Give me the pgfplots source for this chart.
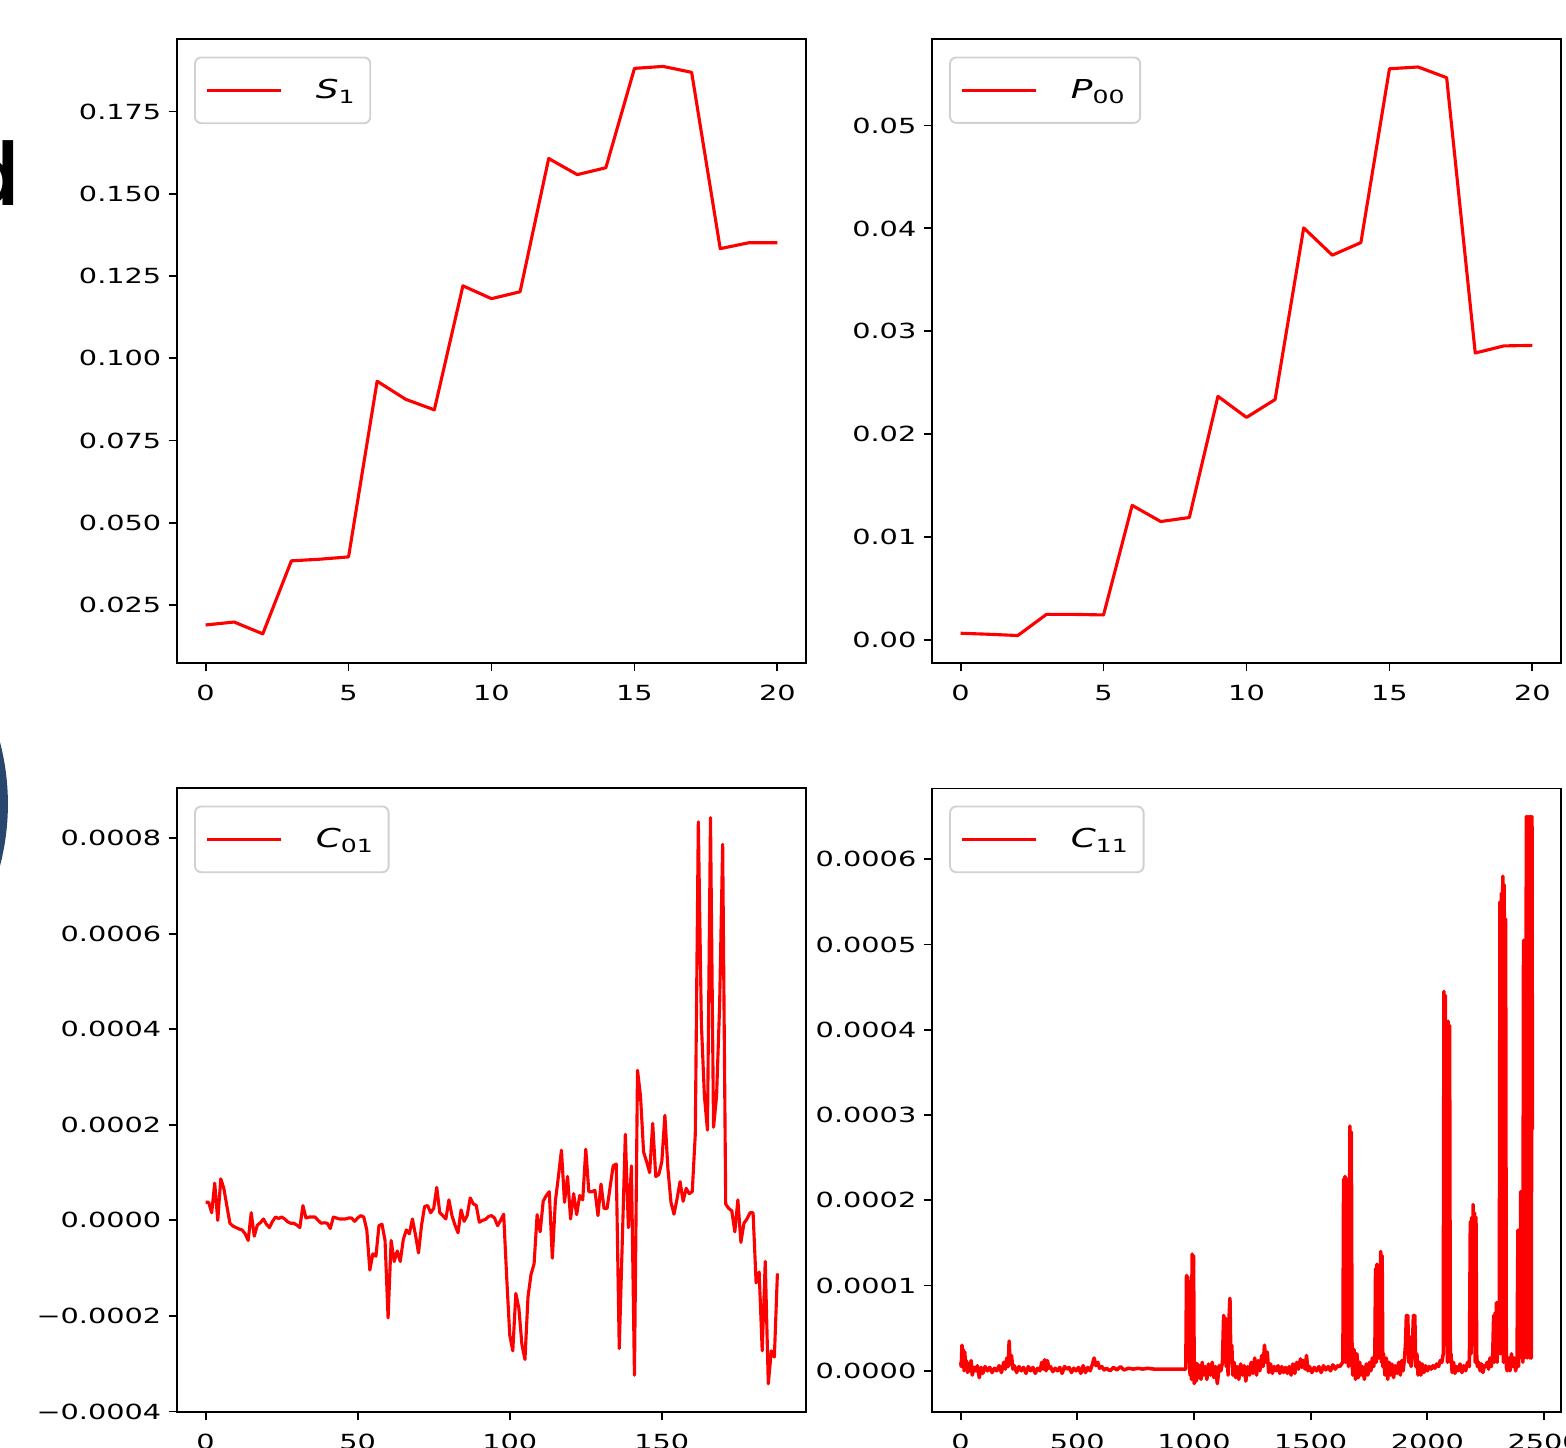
\documentclass[border=0pt]{standalone}
\usepackage{fontspec}
\setmainfont{DejaVu Sans}[FakeStretch=1.38]
\usepackage{pgfplots}
\pgfplotsset{compat=1.18}

\pgfplotsset{
  panel/.style={
    scale only axis, width=301.92pt, height=299.3pt,
    scaled ticks=false,
    axis line style={line width=0.9pt, black},
    tick align=outside, tick pos=left,
    major tick length=4pt,
    tick style={line width=0.9pt, black},
    tick label style={font=\fontsize{10}{12}\selectfont},
    xticklabel style={yshift=-3pt},
    legend style={at={(axis description cs:0,1)}, anchor=north west,
      xshift=8.2pt, yshift=-8.2pt, draw=black!18, line width=0.9pt,
      rounded corners=3pt, inner xsep=5pt, inner ysep=8.4pt,
      font=\fontsize{12.5}{15}\selectfont, cells={anchor=west},
      /tikz/every odd column/.append style={column sep=14pt}},
    legend image code/.code={\draw[##1, line width=1.5pt] (0pt,0pt) -- (35.5pt,0pt);},
  },
  redline/.style={color=red, line width=1.5pt, line join=round},
}

\begin{document}
\begin{tikzpicture}
\useasboundingbox (0,0) rectangle (751.68pt,695.04pt);
\clip (0,0) rectangle (751.68pt,695.04pt);

% fragments of the neighbouring panels
\fill[fill={rgb,255:red,40;green,70;blue,110}] (-113.3pt,309.1pt) circle (117.1pt);
\node[anchor=base east, font=\fontsize{41}{41}\selectfont, inner sep=0pt] at (12pt,596.6pt) {d};

% S_1
\begin{axis}[panel, at={(84.96pt,376.8pt)}, anchor=south west,
  xmin=-1, xmax=21, ymin=0.00735, ymax=0.1969,
  xtick={0,5,10,15,20}, xticklabels={0,5,10,15,20},
  ytick={0.025,0.05,0.075,0.1,0.125,0.15,0.175},
  yticklabels={0.025,0.050,0.075,0.100,0.125,0.150,0.175}]
\addplot[redline] coordinates {
  (0,0.0189) (1,0.0198) (2,0.0162) (3,0.0384) (4,0.0389) (5,0.0396)
  (6,0.0930) (7,0.0875) (8,0.0843) (9,0.1220) (10,0.1181) (11,0.1202)
  (12,0.1607) (13,0.1558) (14,0.1579) (15,0.1881) (16,0.1887) (17,0.1869)
  (18,0.1333) (19,0.1351) (20,0.1351)};
\addlegendentry{\textit{S}\textsubscript{1}}
\end{axis}

% P_00
\begin{axis}[panel, at={(447.36pt,376.8pt)}, anchor=south west,
  xmin=-1, xmax=21, ymin=-0.00224, ymax=0.05837,
  xtick={0,5,10,15,20}, xticklabels={0,5,10,15,20},
  ytick={0,0.01,0.02,0.03,0.04,0.05},
  yticklabels={0.00,0.01,0.02,0.03,0.04,0.05}]
\addplot[redline] coordinates {
  (0,0.00065) (1,0.00055) (2,0.00043) (3,0.00248) (4,0.00248) (5,0.00243)
  (6,0.01308) (7,0.01151) (8,0.01190) (9,0.02368) (10,0.02163) (11,0.02337)
  (12,0.04005) (13,0.03740) (14,0.03862) (15,0.05552) (16,0.05569) (17,0.05465)
  (18,0.02789) (19,0.02858) (20,0.02863)};
\addlegendentry{\textit{P}\textsubscript{00}}
\end{axis}

% C_01
\begin{axis}[panel, at={(84.96pt,17.28pt)}, anchor=south west,
  xmin=-9.4, xmax=197.4, ymin=-0.000401, ymax=0.000904,
  xtick={0,50,100,150}, xticklabels={0,50,100,150},
  ytick={-0.0004,-0.0002,0,0.0002,0.0004,0.0006,0.0008},
  yticklabels={−0.0004,−0.0002,0.0000,0.0002,0.0004,0.0006,0.0008}]
\addplot[redline] table {
0 0.38e-4
1 0.38e-4
2 0.16e-4
3 0.78e-4
4 0
5 0.87e-4
6 0.67e-4
7 0.30e-4
8 -0.06e-4
9 -0.12e-4
10 -0.15e-4
11 -0.18e-4
12 -0.20e-4
13 -0.28e-4
14 -0.42e-4
15 0.16e-4
16 -0.33e-4
17 -0.10e-4
18 -0.05e-4
19 0.03e-4
20 -0.08e-4
21 -0.15e-4
22 -0.02e-4
23 0.07e-4
24 0.04e-4
25 0.07e-4
26 0.03e-4
27 -0.03e-4
28 -0.06e-4
29 -0.06e-4
30 -0.10e-4
31 -0.15e-4
32 0.31e-4
33 0.05e-4
34 0.07e-4
35 0.07e-4
36 0.07e-4
37 0.00
38 -0.06e-4
39 -0.05e-4
40 -0.06e-4
41 -0.17e-4
42 0.07e-4
43 0.05e-4
44 0.03e-4
45 0.03e-4
46 0.03e-4
47 0.05e-4
48 0.05e-4
49 -0.02e-4
50 0.05e-4
51 0.10e-4
52 0.07e-4
53 -0.20e-4
54 -1.04e-4
55 -0.70e-4
56 -0.75e-4
57 -0.11e-4
58 -0.08e-4
59 -0.42e-4
60 -2.04e-4
61 -0.42e-4
62 -0.86e-4
63 -0.64e-4
64 -0.86e-4
65 -0.40e-4
66 -0.20e-4
67 -0.28e-4
68 0.03e-4
69 -0.30e-4
70 -0.68e-4
71 -0.10e-4
72 0.29e-4
73 0.31e-4
74 0.16e-4
75 0.25e-4
76 0.69e-4
77 0.16e-4
78 0.10e-4
79 0.03e-4
80 0.43e-4
81 0.10e-4
82 -0.10e-4
83 -0.26e-4
84 0.22e-4
85 -0.02e-4
86 0.10e-4
87 0.47e-4
88 0.35e-4
89 0.31e-4
90 -0.04e-4
91 0.00
92 0.02e-4
93 0.08e-4
94 0.10e-4
95 0.05e-4
96 -0.11e-4
97 0.00
98 0.13e-4
99 -1.20e-4
100 -2.40e-4
101 -2.73e-4
102 -1.53e-4
103 -1.84e-4
104 -2.60e-4
105 -2.91e-4
106 -1.60e-4
107 -1.13e-4
108 -0.91e-4
109 0.12e-4
110 -0.24e-4
111 0.40e-4
112 0.52e-4
113 0.60e-4
114 -0.79e-4
115 0.40e-4
116 0.92e-4
117 1.47e-4
118 0.38e-4
119 0.92e-4
120 0.03e-4
121 0.56e-4
122 0.12e-4
123 0.52e-4
124 0.43e-4
125 1.49e-4
126 0.60e-4
127 0.60e-4
128 0.63e-4
129 0.10e-4
130 0.76e-4
131 0.25e-4
132 0.25e-4
133 0.70e-4
134 1.14e-4
135 1.18e-4
136 -2.68e-4
137 -0.44e-4
138 1.80e-4
139 -0.15e-4
140 1.14e-4
141 -3.24e-4
142 3.14e-4
143 2.60e-4
144 1.43e-4
145 1.23e-4
146 1.00e-4
147 2.03e-4
148 0.92e-4
149 0.96e-4
150 1.23e-4
151 2.20e-4
152 1.08e-4
153 0.38e-4
154 0.13e-4
155 0.45e-4
156 0.81e-4
157 0.40e-4
158 0.67e-4
159 0.56e-4
160 0.60e-4
161 1.80e-4
162 8.34e-4
163 4.12e-4
164 2.60e-4
165 1.89e-4
166 8.43e-4
167 1.95e-4
168 2.60e-4
169 4.50e-4
170 7.87e-4
171 0.34e-4
172 0.25e-4
173 0.20e-4
174 -0.24e-4
175 0.43e-4
176 -0.46e-4
177 -0.06e-4
178 0.03e-4
179 0.16e-4
180 0.16e-4
181 -1.31e-4
182 -1.08e-4
183 -2.73e-4
184 -0.86e-4
185 -3.42e-4
186 -2.73e-4
187 -2.86e-4
188 -1.11e-4
};
\addlegendentry{\textit{C}\textsubscript{01}}
\end{axis}

% C_11
\begin{axis}[panel, at={(447.36pt,17.28pt)}, anchor=south west,
  xmin=-122.5, xmax=2572.5, ymin=-0.0000483, ymax=0.000683,
  xtick={0,500,1000,1500,2000,2500}, xticklabels={0,500,1000,1500,2000,2500},
  ytick={0,0.0001,0.0002,0.0003,0.0004,0.0005,0.0006},
  yticklabels={0.0000,0.0001,0.0002,0.0003,0.0004,0.0005,0.0006}]
\addplot[redline, line width=1.7pt] table {
0 0.10e-4
3 0.05e-4
6 0.30e-4
9 0.05e-4
12 0.25e-4
15 0.00
18 0.22e-4
21 0.03e-4
25 0.12e-4
30 -0.02e-4
35 0.08e-4
40 0.00
45 0.12e-4
50 -0.05e-4
58 0.04e-4
65 0.00
72 0.06e-4
80 -0.08e-4
88 0.04e-4
95 -0.03e-4
105 0.05e-4
115 0.00
125 0.04e-4
135 -0.02e-4
145 0.03e-4
155 0.00
165 0.06e-4
175 -0.02e-4
185 0.10e-4
192 0.02e-4
198 0.15e-4
204 0.05e-4
208 0.35e-4
212 0.08e-4
218 0.18e-4
224 0.02e-4
230 0.06e-4
240 -0.02e-4
250 0.05e-4
260 0.00
270 0.04e-4
280 -0.03e-4
290 0.05e-4
300 0.00
310 0.04e-4
320 -0.03e-4
330 0.03e-4
340 0.00
348 0.10e-4
354 0.02e-4
360 0.13e-4
366 0.00
372 0.12e-4
378 0.03e-4
385 0.05e-4
395 -0.01e-4
405 0.03e-4
415 0.00
425 0.04e-4
435 -0.03e-4
445 0.05e-4
455 0.02e-4
465 0.04e-4
475 -0.02e-4
485 0.03e-4
495 0.00
505 0.04e-4
515 -0.03e-4
525 0.06e-4
535 -0.02e-4
545 0.04e-4
555 0.00
565 0.08e-4
572 0.15e-4
580 0.06e-4
588 0.10e-4
595 0.03e-4
605 0.05e-4
615 0.01e-4
625 0.03e-4
640 0.00
655 0.04e-4
670 0.01e-4
685 0.05e-4
700 0.01e-4
720 0.03e-4
740 0.02e-4
760 0.03e-4
780 0.02e-4
800 0.03e-4
830 0.02e-4
860 0.02e-4
900 0.02e-4
940 0.02e-4
965 0.02e-4
968 1.12e-4
971 0.80e-4
974 1.10e-4
977 0.10e-4
980 0.95e-4
983 -0.05e-4
986 1.05e-4
989 -0.10e-4
992 1.37e-4
995 0.20e-4
998 1.35e-4
1001 -0.15e-4
1005 0.10e-4
1010 -0.12e-4
1015 0.08e-4
1020 -0.08e-4
1025 0.06e-4
1030 -0.10e-4
1035 0.10e-4
1040 -0.05e-4
1048 0.05e-4
1055 -0.10e-4
1062 0.08e-4
1070 -0.05e-4
1078 0.10e-4
1085 -0.08e-4
1092 0.05e-4
1100 -0.15e-4
1108 0.06e-4
1115 0.00
1122 0.10e-4
1127 0.65e-4
1131 0.20e-4
1134 0.62e-4
1138 0.05e-4
1142 0.40e-4
1146 -0.05e-4
1150 0.60e-4
1154 0.85e-4
1158 0.10e-4
1162 0.30e-4
1166 -0.05e-4
1172 0.10e-4
1178 -0.08e-4
1185 0.05e-4
1192 -0.10e-4
1200 0.08e-4
1208 -0.05e-4
1215 0.06e-4
1222 -0.12e-4
1230 0.05e-4
1238 -0.05e-4
1245 0.10e-4
1252 -0.03e-4
1260 0.15e-4
1268 -0.05e-4
1275 0.12e-4
1282 0.00
1290 0.18e-4
1296 0.05e-4
1302 0.30e-4
1308 0.10e-4
1314 0.22e-4
1320 -0.02e-4
1328 0.08e-4
1336 -0.03e-4
1344 0.05e-4
1352 0.00
1360 0.06e-4
1368 -0.03e-4
1376 0.05e-4
1384 -0.02e-4
1392 0.04e-4
1400 -0.03e-4
1408 0.05e-4
1416 -0.05e-4
1424 0.08e-4
1432 -0.03e-4
1440 0.10e-4
1448 0.02e-4
1456 0.14e-4
1462 0.04e-4
1468 0.12e-4
1476 0.02e-4
1482 0.18e-4
1488 0.00
1495 0.05e-4
1505 -0.02e-4
1515 0.04e-4
1525 0.00
1535 0.05e-4
1545 -0.02e-4
1555 0.06e-4
1565 0.01e-4
1575 0.05e-4
1585 0.00
1595 0.07e-4
1605 0.02e-4
1615 0.06e-4
1625 0.05e-4
1632 0.08e-4
1638 0.10e-4
1641 2.25e-4
1644 0.20e-4
1647 2.28e-4
1650 0.10e-4
1653 2.20e-4
1656 0.40e-4
1659 2.25e-4
1662 0.05e-4
1665 0.35e-4
1668 2.87e-4
1671 0.10e-4
1674 2.80e-4
1677 0.20e-4
1680 -0.05e-4
1686 0.25e-4
1692 -0.10e-4
1698 0.20e-4
1704 -0.08e-4
1710 0.10e-4
1716 -0.05e-4
1722 0.05e-4
1730 -0.10e-4
1738 0.08e-4
1745 -0.05e-4
1752 0.10e-4
1758 0.00
1764 0.15e-4
1770 0.05e-4
1775 0.20e-4
1778 1.20e-4
1781 0.10e-4
1784 1.25e-4
1787 0.30e-4
1790 1.10e-4
1793 0.15e-4
1796 0.25e-4
1800 1.40e-4
1803 0.10e-4
1806 1.35e-4
1809 0.05e-4
1812 0.20e-4
1818 -0.05e-4
1824 0.15e-4
1830 -0.10e-4
1836 0.10e-4
1842 -0.05e-4
1848 0.08e-4
1855 -0.08e-4
1862 0.06e-4
1870 -0.03e-4
1877 0.10e-4
1884 -0.05e-4
1890 0.12e-4
1896 0.00
1902 0.15e-4
1906 0.30e-4
1910 0.65e-4
1913 0.25e-4
1916 0.65e-4
1920 0.10e-4
1925 0.40e-4
1930 0.05e-4
1935 0.20e-4
1940 0.65e-4
1943 0.15e-4
1946 0.65e-4
1950 0.05e-4
1955 0.20e-4
1960 -0.05e-4
1966 0.10e-4
1972 -0.05e-4
1978 0.08e-4
1985 -0.02e-4
1992 0.06e-4
2000 0.00
2008 0.05e-4
2016 0.02e-4
2024 0.06e-4
2032 0.03e-4
2040 0.08e-4
2048 0.05e-4
2055 0.12e-4
2062 0.10e-4
2068 0.20e-4
2071 4.45e-4
2074 1.05e-4
2077 4.40e-4
2080 0.30e-4
2083 3.50e-4
2086 0.10e-4
2089 4.10e-4
2092 0.50e-4
2095 4.05e-4
2098 0.10e-4
2101 0.20e-4
2106 -0.02e-4
2112 0.10e-4
2118 -0.03e-4
2125 0.05e-4
2132 0.00
2140 0.08e-4
2148 -0.02e-4
2156 0.06e-4
2164 0.00
2172 0.10e-4
2180 0.05e-4
2184 1.75e-4
2187 0.20e-4
2190 1.80e-4
2193 0.40e-4
2196 1.95e-4
2199 0.30e-4
2202 1.85e-4
2205 0.10e-4
2208 1.80e-4
2211 0.20e-4
2214 0.05e-4
2220 0.10e-4
2226 0.00
2232 0.08e-4
2238 -0.02e-4
2244 0.06e-4
2250 0.05e-4
2256 0.10e-4
2262 0.02e-4
2268 0.15e-4
2274 0.05e-4
2280 0.20e-4
2284 0.65e-4
2287 0.10e-4
2290 0.68e-4
2293 0.20e-4
2296 0.80e-4
2299 0.10e-4
2302 0.80e-4
2305 0.20e-4
2308 0.30e-4
2311 5.50e-4
2314 0.20e-4
2317 5.60e-4
2320 1.55e-4
2323 5.80e-4
2326 0.10e-4
2329 5.70e-4
2332 0.30e-4
2335 5.30e-4
2338 0.05e-4
2342 0.00
2348 0.15e-4
2354 0.00
2360 0.20e-4
2366 0.05e-4
2372 0.15e-4
2378 0.00
2384 0.10e-4
2388 1.65e-4
2391 0.05e-4
2394 1.65e-4
2397 0.20e-4
2400 2.10e-4
2403 0.15e-4
2406 2.10e-4
2409 0.10e-4
2412 5.05e-4
2415 0.15e-4
2418 5.00e-4
2421 0.20e-4
2424 6.50e-4
2427 0.15e-4
2430 6.50e-4
2433 0.20e-4
2436 6.50e-4
2439 0.15e-4
2442 6.50e-4
2445 0.15e-4
2448 6.50e-4
2450 2.83e-4
};
\addlegendentry{\textit{C}\textsubscript{11}}
\end{axis}
\end{tikzpicture}
\end{document}
